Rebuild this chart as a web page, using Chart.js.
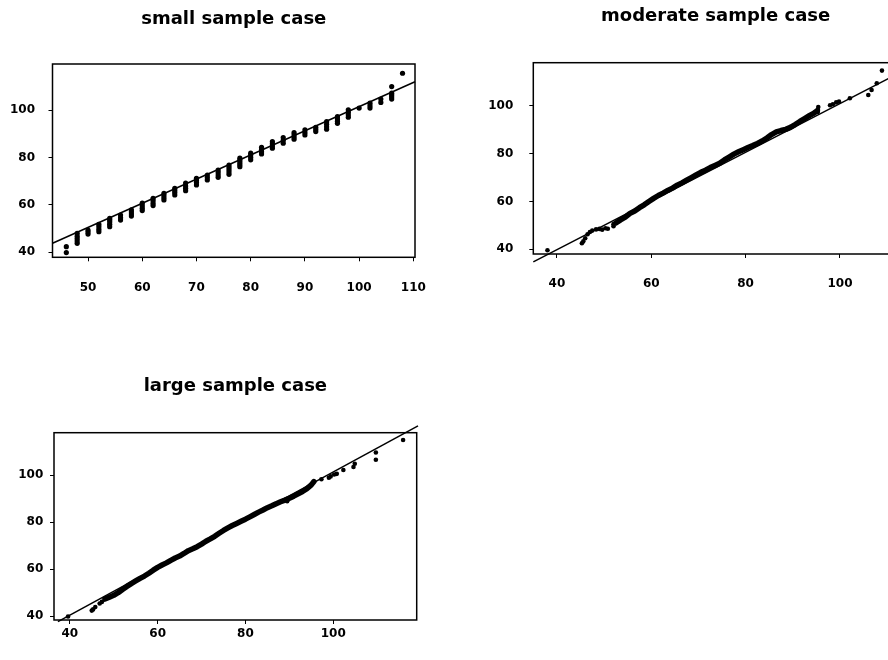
<!DOCTYPE html>
<html>
<head>
<meta charset="utf-8">
<title>sample case plots</title>
<script src="https://cdn.jsdelivr.net/npm/chart.js@4.4.1/dist/chart.umd.min.js"></script>
<style>
  html, body { margin: 0; padding: 0; background: #fff; overflow: hidden; }
  body { width: 888px; height: 660px; position: relative; }
  canvas { position: absolute; }
</style>
</head>
<body>
<canvas id="small" width="470" height="300" style="left:0;top:0"></canvas>
<canvas id="moderate" width="470" height="300" style="left:444px;top:0"></canvas>
<canvas id="large" width="470" height="300" style="left:0;top:360px"></canvas>
<script>
// tick labels
const smallXTicks = [50, 60, 70, 80, 90, 100, 110];
const wideXTicks = [40, 60, 80, 100];
const yTicks = [40, 60, 80, 100];

// small sample: x positions and the stacked y values read at each one
const smallX = [46, 48, 50, 52, 54, 56, 58, 60, 62, 64, 66, 68, 70, 72, 74, 76,
  78, 80, 82, 84, 86, 88, 90, 92, 94, 96, 98, 100, 102, 104, 106, 108];
const smallY = [
  [39.9, 42.4],
  [43.8, 44.8, 45.8, 46.8, 48.0],
  [47.7, 48.6, 49.4],
  [48.7, 49.7, 50.8, 51.8],
  [50.8, 51.8, 52.8, 53.6, 54.3],
  [53.6, 54.6, 55.7],
  [55.3, 56.2, 57.1, 57.9],
  [57.6, 58.6, 59.6, 60.7],
  [59.7, 60.7, 61.8, 62.8],
  [62.1, 63.0, 64.0, 64.9],
  [64.2, 65.2, 66.1, 67.0],
  [66.0, 67.0, 68.0, 69.2],
  [68.4, 69.4, 70.3, 71.2],
  [70.5, 71.5, 72.6],
  [71.6, 72.6, 73.7, 74.7],
  [72.9, 73.9, 74.9, 75.9, 76.8],
  [76.1, 77.0, 77.9, 78.8, 79.7],
  [79.0, 80.0, 81.0, 81.8],
  [81.5, 82.4, 83.4, 84.3],
  [83.9, 84.8, 85.8, 86.7],
  [86.0, 87.2, 88.4],
  [87.7, 88.6, 89.6, 90.5],
  [89.5, 90.5, 91.6],
  [90.9, 91.8, 92.7],
  [91.9, 92.9, 94.0, 95.1],
  [94.4, 95.3, 96.2, 97.2],
  [97.0, 98.0, 99.1, 100.1],
  [100.8],
  [100.8, 101.8, 102.9],
  [103.2, 104.6],
  [104.6, 105.5, 106.3, 107.1, 109.9],
  [115.5]
];
const smallRef = [[43.45, 43.8], [110.3, 111.9]];

// moderate sample: dense middle band and the scattered tails
const moderateBand = [
  [52.5, 51.0], [53.5, 52.3], [54.5, 53.4], [55.5, 55.0], [56.5, 56.0], [57.5, 57.4],
  [58.5, 58.6], [59.5, 60.0], [60.5, 61.3], [61.5, 62.5], [62.5, 63.5], [63.5, 64.6],
  [64.5, 65.6], [65.5, 66.8], [66.5, 67.8], [67.5, 68.9], [68.5, 70.0], [69.5, 71.1],
  [70.5, 72.2], [71.5, 73.1], [72.5, 74.2], [73.5, 75.1], [74.5, 76.0], [75.5, 77.4],
  [76.5, 78.6], [77.5, 79.8], [78.5, 80.8], [79.5, 81.7], [80.5, 82.6], [81.5, 83.4],
  [82.5, 84.3], [83.5, 85.3], [84.5, 86.6], [85.5, 88.0], [86.5, 89.1], [87.5, 89.7],
  [88.5, 90.2], [89.5, 91.0], [90.5, 92.2], [91.5, 93.5], [92.5, 94.7], [93.5, 95.9],
  [94.5, 97.0], [95.2, 98.0]
];
const moderateTail = [
  [38.0, 39.6], [45.3, 42.5], [45.6, 43.3], [46.0, 44.6], [46.5, 46.3], [47.0, 47.2],
  [47.5, 47.8], [48.3, 48.3], [49.0, 48.5], [49.6, 48.2], [50.3, 48.8], [50.8, 48.6],
  [52.0, 49.6], [52.0, 50.5], [95.3, 97.5], [95.3, 98.5], [95.4, 99.5], [97.9, 100.3],
  [98.5, 100.7], [99.2, 101.5], [99.8, 101.8], [102.1, 103.2], [106.0, 104.6],
  [106.7, 106.7], [107.8, 109.5], [108.9, 114.8]
];
const moderateRef = [[35.0, 34.7], [112.3, 113.5]];

// large sample
const largeBand = [
  [48.0, 47.2], [49.0, 48.0], [50.0, 48.8], [51.0, 49.9], [52.0, 51.3], [53.0, 52.6],
  [54.0, 53.8], [55.0, 54.9], [56.0, 56.0], [57.0, 57.0], [58.0, 58.2], [59.0, 59.5],
  [60.0, 60.7], [61.0, 61.7], [62.0, 62.6], [63.0, 63.7], [64.0, 64.7], [65.0, 65.5],
  [66.0, 66.6], [67.0, 67.8], [68.0, 68.6], [69.0, 69.5], [70.0, 70.6], [71.0, 71.8],
  [72.0, 72.8], [73.0, 73.9], [74.0, 75.2], [75.0, 76.4], [76.0, 77.5], [77.0, 78.5],
  [78.0, 79.4], [79.0, 80.3], [80.0, 81.2], [81.0, 82.2], [82.0, 83.2], [83.0, 84.2],
  [84.0, 85.1], [85.0, 86.1], [86.0, 86.9], [87.0, 87.8], [88.0, 88.6], [89.0, 89.3],
  [90.0, 90.1], [91.0, 91.0], [92.0, 92.0], [93.0, 93.0], [94.0, 94.2], [95.0, 95.8],
  [95.6, 97.2]
];
const largeTail = [
  [39.6, 39.8], [45.0, 42.3], [45.3, 42.8], [45.8, 43.8], [46.8, 45.3], [47.3, 46.0],
  [89.5, 88.8], [97.3, 98.2], [99.0, 98.8], [99.4, 99.4], [100.2, 100.2], [100.8, 100.5],
  [102.3, 102.1], [104.6, 103.4], [104.9, 104.8], [109.7, 106.5], [109.7, 109.6],
  [115.9, 114.9]
];
const largeRef = [[37.3, 37.6], [119.3, 120.9]];

const black = "#000";
const tickFont = { family: "DejaVu Sans", size: 12, weight: "bold" };
const titleFont = { family: "DejaVu Sans", size: 18, weight: "bold" };

const toPoints = (pairs) => pairs.map(([x, y]) => ({ x, y }));

// box around the plot area
const frame = {
  id: "frame",
  afterDatasetsDraw(chart) {
    const a = chart.chartArea;
    const ctx = chart.ctx;
    ctx.save();
    ctx.strokeStyle = black;
    ctx.lineWidth = 1.5;
    ctx.strokeRect(a.left, a.top, a.right - a.left, a.bottom - a.top);
    ctx.restore();
  }
};

function axis(min, max, ticks, size, pad, horizontal) {
  return {
    type: "linear",
    min, max,
    grid: { drawOnChartArea: false, drawTicks: true, tickLength: 4, color: black, lineWidth: 1 },
    border: { display: false },
    ticks: { color: black, font: tickFont, padding: pad, autoSkip: false, maxRotation: 0 },
    afterBuildTicks: (s) => { s.ticks = ticks.map(v => ({ value: v })); },
    afterFit: (s) => { if (horizontal) s.height = size; else s.width = size; }
  };
}

function refLine(pairs) {
  return { data: toPoints(pairs), showLine: true, pointRadius: 0, borderColor: black, borderWidth: 1.5, clip: false };
}
function band(pairs) {
  return { data: toPoints(pairs), showLine: true, pointRadius: 0, borderColor: black, borderWidth: 5.5,
    borderCapStyle: "round", borderJoinStyle: "round" };
}
function dots(pairs, r) {
  return { data: toPoints(pairs), pointRadius: r, pointBackgroundColor: black, pointBorderWidth: 0, showLine: false };
}

function makeChart(id, c) {
  new Chart(document.getElementById(id), {
    type: "scatter",
    data: { datasets: c.datasets },
    options: {
      responsive: false,
      animation: false,
      events: [],
      layout: { padding: { left: 0, right: c.right, top: 0, bottom: 0 } },
      plugins: {
        legend: { display: false },
        tooltip: { enabled: false },
        title: { display: true, text: c.title, color: black, font: titleFont, fullSize: false, padding: c.titlePad }
      },
      scales: { x: c.x, y: c.y }
    },
    plugins: [frame]
  });
}

const smallPairs = smallX.flatMap((x, i) => smallY[i].map(y => [x, y]));

makeChart("small", {
  title: "small sample case",
  titlePad: { top: 8.6, bottom: 33.8 },
  right: 55,
  x: axis(43.45, 110.3, smallXTicks, 42.7, 19.5, true),
  y: axis(37.9, 119.4, yTicks, 52.5, 13.5, false),
  datasets: [refLine(smallRef), dots(smallPairs, 2.6)]
});

makeChart("moderate", {
  title: "moderate sample case",
  titlePad: { top: 5.6, bottom: 35.5 },
  right: 16,
  x: axis(35.0, 112.3, wideXTicks, 46, 18.5, true),
  y: axis(38.0, 118.1, yTicks, 89.3, 16, false),
  datasets: [refLine(moderateRef), band(moderateBand), dots(moderateTail, 2.3)]
});

makeChart("large", {
  title: "large sample case",
  titlePad: { top: 16.0, bottom: 35.1 },
  right: 53.3,
  x: axis(36.4, 119.0, wideXTicks, 40, 3, true),
  y: axis(38.3, 118.0, yTicks, 54, 6.7, false),
  datasets: [refLine(largeRef), band(largeBand), dots(largeTail, 2.3)]
});
</script>
</body>
</html>
